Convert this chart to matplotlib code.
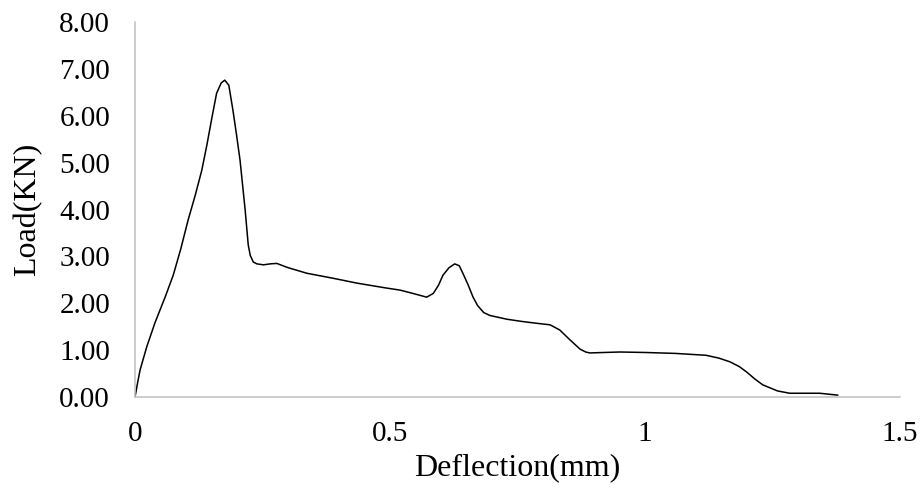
import numpy as np
import matplotlib.pyplot as plt

# load-deflection readings
deflection = [0.0, 0.005, 0.010, 0.023, 0.039, 0.059, 0.075, 0.090, 0.104, 0.118,
              0.131, 0.141, 0.151, 0.160, 0.169, 0.176, 0.184, 0.192, 0.199, 0.206,
              0.216, 0.222, 0.226, 0.232, 0.239, 0.252, 0.265, 0.278, 0.300, 0.337,
              0.390, 0.435, 0.490, 0.520, 0.545, 0.572, 0.585, 0.595, 0.604, 0.616,
              0.627, 0.636, 0.643, 0.653, 0.663, 0.672, 0.684, 0.696, 0.729, 0.760,
              0.790, 0.814, 0.833, 0.853, 0.873, 0.884, 0.892, 0.920, 0.951, 1.000,
              1.060, 1.120, 1.145, 1.167, 1.185, 1.200, 1.215, 1.231, 1.260, 1.284,
              1.343, 1.378]
load = [0.0, 0.30, 0.58, 1.07, 1.58, 2.13, 2.60, 3.17, 3.77, 4.30,
        4.84, 5.38, 5.97, 6.48, 6.70, 6.76, 6.65, 6.12, 5.60, 5.05,
        3.99, 3.25, 3.02, 2.88, 2.84, 2.82, 2.84, 2.85, 2.76, 2.64,
        2.53, 2.43, 2.33, 2.28, 2.21, 2.13, 2.21, 2.38, 2.60, 2.76,
        2.84, 2.80, 2.64, 2.40, 2.13, 1.95, 1.80, 1.74, 1.66, 1.61,
        1.57, 1.54, 1.43, 1.22, 1.02, 0.96, 0.94, 0.95, 0.96, 0.95,
        0.93, 0.89, 0.83, 0.75, 0.65, 0.53, 0.39, 0.26, 0.13, 0.08,
        0.08, 0.04]

xticks = [0, 0.5, 1, 1.5]
xticklabels = ['0', '0.5', '1', '1.5']
yticks = np.arange(0, 9, 1)

plt.rcParams['font.family'] = ['Liberation Serif', 'DejaVu Serif']

fig = plt.figure(figsize=(9.21, 4.97), dpi=100)
ax = fig.add_axes([0.1466, 0.2012, 0.8304, 0.7545])
ax.plot(deflection, load, color='black', lw=1.1, solid_joinstyle='round')

ax.set_xlim(0, 1.5)
ax.set_ylim(0, 8)
ax.set_xticks(xticks)
ax.set_xticklabels(xticklabels)
ax.set_yticks(yticks)
ax.set_yticklabels(['{:.2f}'.format(v) for v in yticks])
ax.tick_params(length=0, labelsize=21)
ax.tick_params(axis='y', pad=18)
ax.tick_params(axis='x', pad=17)

for side in ['top', 'right']:
    ax.spines[side].set_visible(False)
for side in ['left', 'bottom']:
    ax.spines[side].set_color('#bfbfbf')
    ax.spines[side].set_linewidth(1.1)

ax.set_xlabel('Deflection(mm)', fontsize=23, labelpad=5)
ax.set_ylabel('Load(KN)', fontsize=23, labelpad=12)

fig.savefig('out.png', dpi=100)
